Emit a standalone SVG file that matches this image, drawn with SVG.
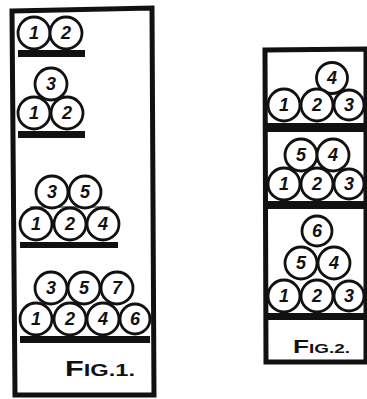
<svg xmlns="http://www.w3.org/2000/svg" width="367" height="399" viewBox="0 0 367 399">
<style>
.c{fill:#fff;stroke:#111;stroke-width:2.8}
.n{font-family:"Liberation Sans",Arial,sans-serif;font-size:18px;font-weight:bold;font-style:italic;fill:#111;text-anchor:middle;dominant-baseline:central}
.bar{fill:#111}
.frame{fill:none;stroke:#111;stroke-width:5;stroke-linejoin:miter}
.lbl{font-family:"Liberation Sans",Arial,sans-serif;font-weight:bold;fill:#111}
</style>
<rect width="367" height="399" fill="#fff"/>
<g id="fig1">
  <path class="frame" d="M12,11 L152,8 L154,395 L15,395 Z"/>
  <g id="f1-stack1">
    <circle class="c" cx="34" cy="33" r="16"/><text class="n" x="34" y="33">1</text>
    <circle class="c" cx="66" cy="33" r="16"/><text class="n" x="66" y="33">2</text>
    <rect class="bar" x="18" y="50" width="67" height="7"/>
  </g>
  <g id="f1-stack2">
    <circle class="c" cx="51" cy="84" r="16"/><text class="n" x="51" y="84">3</text>
    <circle class="c" cx="34" cy="113" r="16"/><text class="n" x="34" y="113">1</text>
    <circle class="c" cx="67" cy="113" r="16"/><text class="n" x="67" y="113">2</text>
    <rect class="bar" x="18" y="131" width="67" height="7"/>
  </g>
  <g id="f1-stack3">
    <line x1="30" y1="207" x2="110" y2="207" stroke="#111" stroke-width="1"/>
    <circle class="c" cx="52" cy="192" r="16"/><text class="n" x="52" y="192">3</text>
    <circle class="c" cx="85" cy="192" r="16"/><text class="n" x="85" y="192">5</text>
    <circle class="c" cx="36" cy="224" r="16"/><text class="n" x="36" y="224">1</text>
    <circle class="c" cx="70" cy="224" r="16"/><text class="n" x="70" y="224">2</text>
    <circle class="c" cx="103" cy="224" r="16"/><text class="n" x="103" y="224">4</text>
    <rect class="bar" x="20" y="242" width="98" height="6"/>
  </g>
  <g id="f1-stack4">
    <circle class="c" cx="51" cy="288" r="16"/><text class="n" x="51" y="288">3</text>
    <circle class="c" cx="84" cy="288" r="16"/><text class="n" x="84" y="288">5</text>
    <circle class="c" cx="117" cy="288" r="16"/><text class="n" x="117" y="288">7</text>
    <circle class="c" cx="36" cy="319" r="16"/><text class="n" x="36" y="319">1</text>
    <circle class="c" cx="70" cy="319" r="16"/><text class="n" x="70" y="319">2</text>
    <circle class="c" cx="103" cy="319" r="16"/><text class="n" x="103" y="319">4</text>
    <circle class="c" cx="135" cy="319" r="15"/><text class="n" x="135" y="319">6</text>
    <rect class="bar" x="20" y="336" width="130" height="7"/>
  </g>
  <text id="f1-label" class="lbl" x="65" y="376" textLength="70" lengthAdjust="spacingAndGlyphs"><tspan font-size="22">F</tspan><tspan font-size="17">IG.1.</tspan></text>
</g>
<g id="fig2">
  <path class="frame" d="M265,50 L366,49 L366,362 L266,362 Z"/>
  <g id="f2-stack1">
    <circle class="c" cx="332" cy="78" r="15.5"/><text class="n" x="332" y="78">4</text>
    <circle class="c" cx="284" cy="105" r="16"/><text class="n" x="284" y="105">1</text>
    <circle class="c" cx="317" cy="105" r="16"/><text class="n" x="317" y="105">2</text>
    <circle class="c" cx="349" cy="105" r="15"/><text class="n" x="349" y="105">3</text>
    <rect class="bar" x="266" y="123" width="101" height="9"/>
  </g>
  <g id="f2-stack2">
    <circle class="c" cx="301" cy="155" r="16"/><text class="n" x="301" y="155">5</text>
    <circle class="c" cx="333" cy="155" r="16"/><text class="n" x="333" y="155">4</text>
    <circle class="c" cx="284" cy="184" r="16"/><text class="n" x="284" y="184">1</text>
    <circle class="c" cx="317" cy="184" r="16"/><text class="n" x="317" y="184">2</text>
    <circle class="c" cx="349" cy="184" r="15"/><text class="n" x="349" y="184">3</text>
    <rect class="bar" x="266" y="201" width="101" height="8"/>
  </g>
  <g id="f2-stack3">
    <circle class="c" cx="317" cy="231" r="15"/><text class="n" x="317" y="231">6</text>
    <circle class="c" cx="301" cy="263" r="16"/><text class="n" x="301" y="263">5</text>
    <circle class="c" cx="334" cy="263" r="16"/><text class="n" x="334" y="263">4</text>
    <circle class="c" cx="284" cy="296" r="16"/><text class="n" x="284" y="296">1</text>
    <circle class="c" cx="317" cy="296" r="16"/><text class="n" x="317" y="296">2</text>
    <circle class="c" cx="349" cy="296" r="15"/><text class="n" x="349" y="296">3</text>
    <rect class="bar" x="266" y="313" width="101" height="7"/>
  </g>
  <text id="f2-label" class="lbl" x="293" y="353" textLength="57" lengthAdjust="spacingAndGlyphs"><tspan font-size="18">F</tspan><tspan font-size="13">IG.2.</tspan></text>
</g>
</svg>
